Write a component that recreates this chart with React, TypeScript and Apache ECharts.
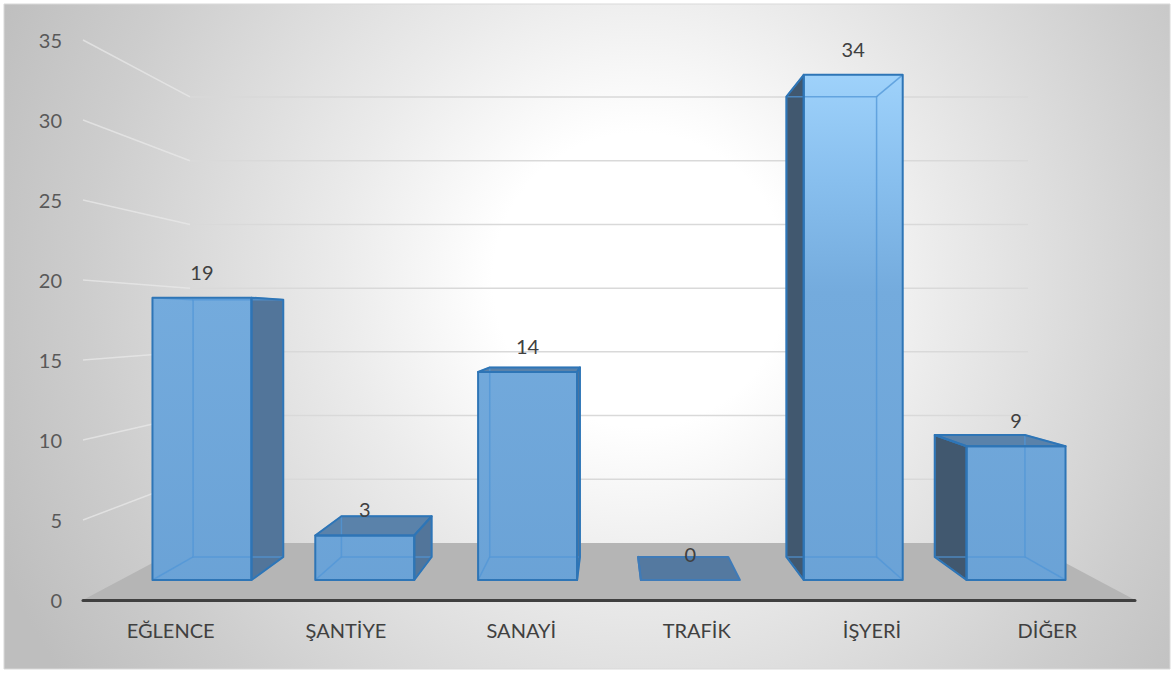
import React, { useEffect, useRef } from "react";
import * as echarts from "echarts";

const categories = ["EĞLENCE", "ŞANTİYE", "SANAYİ", "TRAFİK", "İŞYERİ", "DİĞER"];
const values = [19, 3, 14, 0, 34, 9];
const yTicks = [0, 5, 10, 15, 20, 25, 30, 35];

const S_FRONT = 0.9286; // depth scale of bar front faces
const S_BACK = 0.846; // depth scale of bar back faces
const S_WALL = 0.7966; // depth scale of back wall
const BAR_FRAC = 0.304; // half bar width / category slot
const FONT = "Lato, 'Noto Sans', sans-serif";

export default function App() {
  const ref = useRef<HTMLDivElement>(null);

  useEffect(() => {
    const chart = echarts.init(ref.current!, null, { renderer: "svg" });

    const wallItem = (params: any, api: any) => {
      const cs = params.coordSys;
      const vx = cs.x + cs.width / 2;
      const vy = cs.y + cs.height / 2;
      const v = api.value(1);
      const yf = api.coord([0, v])[1];
      const xl = cs.x;
      const xr = cs.x + cs.width;
      const yb = vy + S_WALL * (yf - vy);
      const xlb = vx + S_WALL * (xl - vx);
      const xrb = vx + S_WALL * (xr - vx);
      const children: any[] = [];
      if (v === 0) {
        children.push({
          type: "polygon",
          shape: { points: [[xl, yf], [xr, yf], [xrb, yb], [xlb, yb]] },
          style: { fill: "#B5B5B5" },
        });
      } else {
        children.push({
          type: "line",
          shape: { x1: xl, y1: yf, x2: xlb, y2: yb },
          style: { stroke: "rgba(232,232,232,0.75)", lineWidth: 1.5 },
        });
        children.push({
          type: "line",
          shape: { x1: xlb, y1: yb, x2: xrb, y2: yb },
          style: { stroke: "#D9D9D9", lineWidth: 1.5 },
        });
      }
      return { type: "group", children };
    };

    const barItem = (params: any, api: any) => {
      const cs = params.coordSys;
      const vx = cs.x + cs.width / 2;
      const vy = cs.y + cs.height / 2;
      const i = api.value(0);
      const v = api.value(1);
      const top = api.coord([i, v]);
      const cx = top[0];
      const yTop = top[1];
      const y0 = api.coord([i, 0])[1];
      const slot = api.size([1, 0])[0];
      const hw = slot * BAR_FRAC;
      const XL = cx - hw;
      const XR = cx + hw;
      const P = (s: number, X: number, Y: number) => [vx + s * (X - vx), vy + s * (Y - vy)];
      const fTL = P(S_FRONT, XL, yTop), fTR = P(S_FRONT, XR, yTop);
      const fBL = P(S_FRONT, XL, y0), fBR = P(S_FRONT, XR, y0);
      const bTL = P(S_BACK, XL, yTop), bTR = P(S_BACK, XR, yTop);
      const bBL = P(S_BACK, XL, y0), bBR = P(S_BACK, XR, y0);

      const outline = "#2E75B6";
      const faces: { pts: number[][]; fill: any }[] = [];
      if (XR < vx) faces.push({ pts: [fTR, fBR, bBR, bTR], fill: "#52759A" });
      if (XL > vx) faces.push({ pts: [fTL, fBL, bBL, bTL], fill: "#41586F" });
      if (yTop > vy) faces.push({ pts: [fTL, fTR, bTR, bTL], fill: v === 0 ? "#5479A0" : "#5A82AA" });
      if (v > 0) {
        faces.push({
          pts: [fTL, fTR, fBR, fBL],
          fill: new echarts.graphic.LinearGradient(
            0, cs.y, 0, cs.y + cs.height,
            [
              { offset: 0, color: "#A6D8FF" },
              { offset: 0.25, color: "#88BFEE" },
              { offset: 0.45, color: "#74ABDD" },
              { offset: 1, color: "#6AA2D6" },
            ],
            true
          ),
        });
      }
      const children: any[] = [];
      faces.forEach((f) =>
        children.push({ type: "polygon", shape: { points: f.pts }, style: { fill: f.fill } })
      );
      if (v > 0) {
        const inner = { stroke: "rgba(80,150,215,0.75)", lineWidth: 1.5, fill: "none" };
        children.push({ type: "polygon", shape: { points: [bTL, bTR, bBR, bBL] }, style: inner });
        [[fTL, bTL], [fTR, bTR], [fBL, bBL], [fBR, bBR]].forEach(([a, b]) =>
          children.push({ type: "line", shape: { x1: a[0], y1: a[1], x2: b[0], y2: b[1] }, style: inner })
        );
      }
      faces.forEach((f) =>
        children.push({
          type: "polygon",
          shape: { points: f.pts },
          style: { fill: "none", stroke: v === 0 ? "#3F7BB8" : outline, lineWidth: 2, lineJoin: "round" },
        })
      );
      children.push({
        type: "text",
        style: {
          text: String(v),
          x: (fTL[0] + fTR[0]) / 2,
          y: fTL[1] - 26,
          align: "center",
          verticalAlign: "middle",
          fill: "#404040",
          fontSize: 20,
          fontFamily: FONT,
        },
      });
      return { type: "group", children };
    };

    chart.setOption({
      animation: false,
      graphic: [
        {
          type: "rect",
          z: -10,
          silent: true,
          shape: { x: 4, y: 4, width: 1166, height: 665 },
          style: {
            fill: new echarts.graphic.RadialGradient(
              640, 280, 700,
              [
                { offset: 0, color: "#FFFFFF" },
                { offset: 0.21, color: "#FFFFFF" },
                { offset: 0.43, color: "#EBEBEB" },
                { offset: 0.79, color: "#CDCDCD" },
                { offset: 1, color: "#BEBEBE" },
              ],
              true
            ),
            stroke: "#D9D9D9",
            lineWidth: 1,
          },
        },
      ],
      grid: { left: 83, right: 39, top: 40, bottom: 73, containLabel: false, outerBoundsMode: "none" },
      xAxis: {
        type: "category",
        data: categories,
        z: 10,
        axisLine: { show: true, lineStyle: { color: "#404040", width: 3 } },
        axisTick: { show: false },
        splitLine: { show: false },
        axisLabel: { margin: 20, fontSize: 20, color: "#404040", fontFamily: FONT },
      },
      yAxis: {
        type: "value",
        min: 0,
        max: 35,
        interval: 5,
        axisLine: { show: false },
        axisTick: { show: false },
        splitLine: { show: false },
        axisLabel: { margin: 21, fontSize: 20, color: "#595959", fontFamily: FONT },
      },
      series: [
        {
          type: "custom",
          z: 1,
          silent: true,
          clip: false,
          renderItem: wallItem,
          encode: { x: 0, y: 1 },
          data: yTicks.map((t) => [0, t]),
        },
        {
          type: "custom",
          z: 2,
          silent: true,
          clip: false,
          renderItem: barItem,
          encode: { x: 0, y: 1 },
          data: values.map((v, i) => [i, v]),
        },
      ],
    });

    return () => chart.dispose();
  }, []);

  return (
    <div
      ref={ref}
      style={{ position: "absolute", left: 0, top: 0, width: 1174, height: 673 }}
    />
  );
}
